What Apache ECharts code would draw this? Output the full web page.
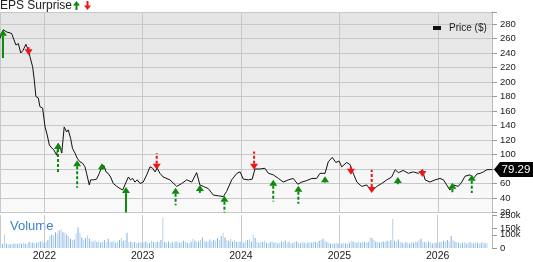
<!DOCTYPE html>
<html><head><meta charset="utf-8">
<script src="https://cdn.jsdelivr.net/npm/echarts@6/dist/echarts.min.js"></script>
<style>html,body{margin:0;padding:0;background:#fff}#c{width:533px;height:262px}</style>
</head><body><div id="c"></div>
<script>
const priceDates = ['2021-07-22','2021-08-03','2021-08-16','2021-09-03','2021-09-12','2021-09-19','2021-09-28','2021-10-07','2021-10-16','2021-10-26','2021-11-04','2021-11-10','2021-11-20','2021-11-26','2021-12-02','2021-12-11','2021-12-17','2021-12-27','2022-01-05','2022-01-13','2022-01-21','2022-01-30','2022-02-07','2022-02-17','2022-02-23','2022-03-01','2022-03-08','2022-03-17','2022-03-26','2022-04-01','2022-04-10','2022-04-17','2022-04-26','2022-05-04','2022-05-14','2022-05-24','2022-06-02','2022-06-08','2022-06-18','2022-06-23','2022-07-03','2022-07-15','2022-07-25','2022-08-03','2022-08-11','2022-08-19','2022-08-27','2022-09-05','2022-09-15','2022-09-28','2022-10-10','2022-10-20','2022-10-28','2022-11-10','2022-11-18','2022-11-26','2022-12-04','2022-12-13','2022-12-23','2023-01-04','2023-01-17','2023-01-29','2023-02-08','2023-02-17','2023-02-25','2023-03-07','2023-03-19','2023-03-26','2023-04-13','2023-05-08','2023-05-27','2023-06-14','2023-07-03','2023-07-21','2023-07-27','2023-08-02','2023-08-15','2023-09-02','2023-09-21','2023-10-09','2023-10-28','2023-11-09','2023-11-28','2023-12-17','2023-12-29','2024-01-10','2024-01-29','2024-02-12','2024-02-22','2024-03-12','2024-03-30','2024-04-12','2024-04-30','2024-05-19','2024-06-06','2024-06-25','2024-07-13','2024-07-30','2024-08-14','2024-09-01','2024-09-20','2024-10-08','2024-10-20','2024-11-08','2024-11-20','2024-12-05','2024-12-18','2024-12-30','2025-01-09','2025-01-27','2025-02-09','2025-02-15','2025-03-06','2025-03-24','2025-04-12','2025-04-30','2025-05-19','2025-06-06','2025-06-25','2025-07-13','2025-07-26','2025-08-07','2025-08-25','2025-09-13','2025-10-01','2025-10-20','2025-11-04','2025-11-14','2025-12-02','2025-12-21','2026-01-08','2026-01-21','2026-02-02','2026-02-14','2026-02-27','2026-03-17','2026-03-30','2026-04-11','2026-04-30','2026-05-12','2026-05-25','2026-06-06','2026-06-18','2026-07-01','2026-07-20'];
const priceValues = [260,272,269,267,258,251,253,240,244,252,244,235,221,203,180,178,166,164,138,127,113,109,106,99,115,111,102,138,131,134,122,108,102,95,90,88,83,74,58,65,65,66,74,83,85,76,74,69,60,56,53,51,58,69,65,67,62,65,60,62,72,83,81,76,81,74,69,67,65,56,60,65,62,75,76,58,56,53,44,43,42,49,65,74,76,66,65,66,80,80,81,74,72,67,62,65,67,59,62,64,67,67,74,74,90,96,89,91,83,89,86,79,62,56,58,49,56,60,65,69,79,75,78,74,76,74,79,65,62,65,67,65,58,51,58,56,62,70,72,67,73,74,76,79,79.29];

// EPS surprise arrows: date, price at arrow tip, price at arrow tail, dashed (1) / solid (0)
const epsDates  = ['2021-08-02','2021-11-05','2022-02-22','2022-05-04','2022-08-04','2022-11-01','2023-02-23','2023-05-04','2023-08-02','2023-11-01','2024-02-19','2024-04-30','2024-08-01','2024-11-08','2025-02-12','2025-04-30','2025-08-05','2025-11-04','2026-02-23','2026-05-06'];
const epsTip    = [272, 237, 116, 92, 88, 55, 79, 54, 58, 43, 79, 65, 57, 70, 72, 47, 69, 69, 61, 72];
const epsTail   = [233, 248, 76, 54, 79, 20, 102, 30, 47, 20, 104, 35, 32, 61, 83, 79, 59, 79, 48, 47];
const epsDashed = [0, 0, 1, 1, 0, 0, 1, 1, 0, 1, 1, 1, 1, 0, 0, 1, 0, 0, 0, 1];

// weekly volume (thousands), first week starting 2021-07-23
const volumeStart = '2021-07-23';
const volumeValues = [
 40,30,105,35,30,28,30,32,35,30,38,32,40,35,30,45,38,42,35,40,45,50,55,
 40,45,60,90,100,95,120,110,135,140,120,115,100,90,70,60,65,110,155,115,80,60,75,95,70,55,50,60,45,55,40,50,60,45,70,50,45,55,40,50,60,75,55,60,115,45,50,40,45,35,40,45,
 40,45,50,35,40,55,45,40,50,45,60,230,45,40,50,35,45,40,50,45,40,45,55,50,40,35,45,70,55,45,50,60,80,55,50,45,65,50,60,55,75,60,90,115,80,60,55,70,50,60,45,50,
 45,50,40,55,60,65,50,100,75,45,40,50,45,55,40,35,45,50,40,45,35,40,50,45,55,40,45,35,40,45,50,40,35,45,40,35,40,45,40,50,45,40,55,60,70,55,45,40,35,30,35,40,
 35,30,35,40,35,30,40,55,50,45,40,45,40,50,45,40,45,80,75,60,50,45,40,45,50,45,55,50,60,220,55,50,65,45,40,35,45,40,35,45,40,50,45,60,70,50,45,40,50,45,35,40,
 40,35,45,50,55,45,60,50,90,60,50,45,40,35,40,45,35,40,45,40,35,45,40,35,40,45,35,40
];
const volumeInnerTicks = [50000, 100000, 150000, 200000];
const volumeEndTicks = [0, 250000];

const xMin = '2021-07-22', xMax = '2026-07-20';
const priceMin = 20, priceMax = 296.55, priceStep = 20;
const volMax = 250000;

const DAY = 86400000;
const t0 = +new Date(volumeStart + 'T00:00:00Z');
const volumeData = volumeValues.map((v, i) => [t0 + i * 7 * DAY, v * 1000]);
const priceData = priceDates.map((d, i) => [d, priceValues[i]]);
const epsData = epsDates.map((d, i) => [+new Date(d + 'T00:00:00Z'), epsTip[i], epsTail[i], epsDashed[i]]);
const lastIdx = priceValues.length - 1;

const FONT = '"Liberation Sans", Arial, sans-serif';
const chart = echarts.init(document.getElementById('c'), null, {renderer: 'canvas'});

function renderArrow(params, api) {
  const d = api.value(0), tip = api.value(1), tail = api.value(2), dashed = api.value(3);
  const p1 = api.coord([d, tip]);
  const p2 = api.coord([d, tail]);
  const up = tail < tip;
  const color = up ? '#0b8a0b' : '#f01414';
  const hw = 4, hh = 6;
  const baseY = p1[1] + (up ? hh : -hh);
  const children = [];
  if (Math.abs(p2[1] - p1[1]) > hh) {
    children.push({type: 'line', shape: {x1: p1[0], y1: baseY, x2: p1[0], y2: p2[1]},
      style: {stroke: color, lineWidth: 2, lineDash: dashed ? [3, 2] : null}});
  }
  children.push({type: 'polygon', shape: {points: [[p1[0], p1[1]], [p1[0] - hw, baseY], [p1[0] + hw, baseY]]},
    style: {fill: color}});
  return {type: 'group', children};
}

const yearFmt = v => String(new Date(v).getUTCFullYear());
const volFmt = v => (v === 0 ? '0' : (v / 1000) + 'k');

chart.setOption({
  animation: false,
  textStyle: {fontFamily: FONT},
  grid: [
    {left: 0, right: 41, top: 12, height: 200.5, show: true, borderWidth: 0,
     backgroundColor: new echarts.graphic.LinearGradient(0, 0, 0, 1, [{offset: 0, color: '#e4e4e4'}, {offset: 1, color: '#fafafa'}])},
    {left: 0, right: 41, top: 215, height: 37}
  ],
  legend: {data: ['Price ($)'], left: 428, top: 18, icon: 'rect', itemWidth: 8, itemHeight: 4, itemGap: 4,
    textStyle: {fontSize: 10, color: '#222', fontFamily: FONT, padding: [0, 0, 0, 3]}},
  xAxis: [
    {type: 'time', gridIndex: 0, min: xMin, max: xMax, splitNumber: 5, minInterval: 365 * DAY,
     axisLine: {show: false}, axisTick: {show: false}, axisLabel: {show: false},
     splitLine: {show: true, lineStyle: {color: '#c8c8c8', width: 1}}},
    {type: 'time', gridIndex: 1, min: xMin, max: xMax, splitNumber: 5, minInterval: 365 * DAY,
     axisLine: {show: false}, axisTick: {show: false},
     axisLabel: {formatter: yearFmt, fontSize: 10.5, color: '#222', margin: 3, showMinLabel: false, showMaxLabel: false},
     splitLine: {show: true, lineStyle: {color: '#c8c8c8', width: 1}}}
  ],
  yAxis: [
    {type: 'value', gridIndex: 0, position: 'right', min: priceMin, max: priceMax, interval: priceStep,
     axisLine: {show: true, lineStyle: {color: '#bbb'}},
     axisTick: {show: true, length: 5, lineStyle: {color: '#999'}},
     axisLabel: {fontSize: 9.5, color: '#222', margin: 8, hideOverlap: false, showMinLabel: true,
       formatter: v => (v % 20 === 0 ? String(v) : '')},
     splitLine: {show: true, lineStyle: {color: '#c8c8c8', width: 1}}},
    {type: 'value', gridIndex: 1, position: 'right', min: 0, max: volMax,
     axisLine: {show: true, lineStyle: {color: '#bbb'}},
     axisTick: {show: true, length: 5, lineStyle: {color: '#999'}, customValues: volumeInnerTicks},
     axisLabel: {fontSize: 9.5, color: '#222', margin: 8, hideOverlap: false, customValues: volumeInnerTicks, formatter: volFmt},
     splitLine: {show: false}},
    {type: 'value', gridIndex: 1, position: 'right', offset: 0, min: 0, max: volMax,
     axisLine: {show: false},
     axisTick: {show: true, length: 5, lineStyle: {color: '#999'}, customValues: volumeEndTicks},
     axisLabel: {fontSize: 9.5, color: '#222', margin: 8, hideOverlap: false, showMinLabel: true, showMaxLabel: true,
       customValues: volumeEndTicks, formatter: volFmt},
     splitLine: {show: false}}
  ],
  series: [
    {name: 'Price ($)', type: 'line', xAxisIndex: 0, yAxisIndex: 0, data: priceData, showSymbol: false,
     lineStyle: {color: '#111', width: 1}, itemStyle: {color: '#111'},
     markPoint: {silent: true, symbol: 'path://M0,7.5 L6,0 L40,0 L40,15 L6,15 Z', symbolSize: [40, 15], symbolOffset: [22, 0],
       itemStyle: {color: '#000'},
       label: {show: true, color: '#fff', fontSize: 11.5, fontFamily: FONT, offset: [2, 0], formatter: () => priceValues[lastIdx].toFixed(2)},
       data: [{coord: [priceDates[lastIdx], priceValues[lastIdx]]}]}},
    {type: 'custom', xAxisIndex: 0, yAxisIndex: 0, data: epsData, renderItem: renderArrow, clip: false,
     encode: {x: 0, y: 1}, z: 5},
    {type: 'bar', xAxisIndex: 1, yAxisIndex: 1, data: volumeData, barWidth: 1,
     itemStyle: {color: p => (p.dataIndex % 2 ? '#7eb2e0' : '#b6d2ee')}}
  ],
  graphic: [
    {type: 'text', left: 0, top: 0, style: {text: 'EPS Surprise', font: '12px ' + FONT, fill: '#222'}},
    {type: 'group', left: 73, top: 1, children: [
      {type: 'polygon', shape: {points: [[3.5, 0], [0, 4.5], [7, 4.5]]}, style: {fill: '#0b8a0b'}},
      {type: 'rect', shape: {x: 2.5, y: 4, width: 2, height: 5}, style: {fill: '#0b8a0b'}}
    ]},
    {type: 'group', left: 84, top: 1, children: [
      {type: 'rect', shape: {x: 2.5, y: 0, width: 2, height: 5}, style: {fill: '#f01414'}},
      {type: 'polygon', shape: {points: [[0, 4.5], [7, 4.5], [3.5, 9]]}, style: {fill: '#f01414'}}
    ]},
    {type: 'text', left: 10, top: 220, style: {text: 'Volume', font: '13px ' + FONT, fill: '#3b82c4'}}
  ]
});
</script></body></html>
